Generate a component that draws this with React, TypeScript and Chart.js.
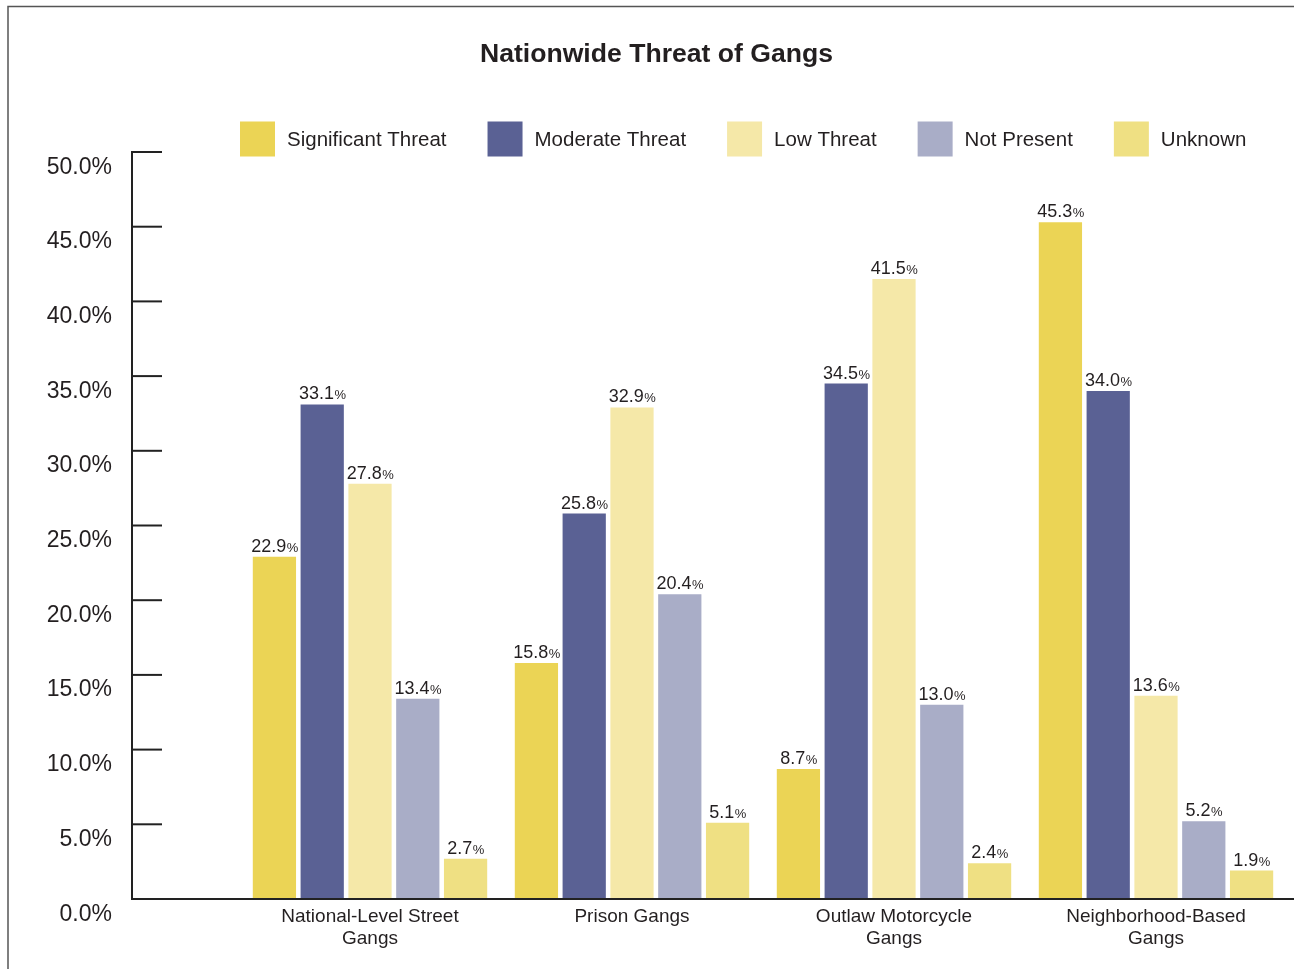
import React, { useEffect, useRef } from 'react';
import { Chart, registerables } from 'chart.js';

Chart.register(...registerables);

const TITLE = 'Nationwide Threat of Gangs';
const categories: string[][] = [
  ['National-Level Street', 'Gangs'],
  ['Prison Gangs'],
  ['Outlaw Motorcycle', 'Gangs'],
  ['Neighborhood-Based', 'Gangs'],
];
const seriesNames = ['Significant Threat', 'Moderate Threat', 'Low Threat', 'Not Present', 'Unknown'];
const significantThreat = [22.9, 15.8, 8.7, 45.3];
const moderateThreat = [33.1, 25.8, 34.5, 34.0];
const lowThreat = [27.8, 32.9, 41.5, 13.6];
const notPresent = [13.4, 20.4, 13.0, 5.2];
const unknown = [2.7, 5.1, 2.4, 1.9];
const seriesColors = ['#EBD455', '#5A6194', '#F5E8A8', '#A9ADC7', '#EFE083'];
const yMin = 0;
const yMax = 50;
const yStep = 5;

const FONT = "'Liberation Sans', Arial, Helvetica, sans-serif";
const INK = '#231f20';

const overlayPlugin = {
  id: 'overlay',
  afterDraw(chart: any) {
    const ctx = chart.ctx as CanvasRenderingContext2D;
    const yScale = chart.scales.y;
    const W = chart.width;
    const H = chart.height;
    ctx.save();

    // frame
    ctx.strokeStyle = '#555';
    ctx.lineWidth = 1.5;
    ctx.beginPath();
    ctx.moveTo(8, H);
    ctx.lineTo(8, 6.5);
    ctx.lineTo(W, 6.5);
    ctx.stroke();

    // title
    ctx.fillStyle = INK;
    ctx.font = `bold 26.6px ${FONT}`;
    ctx.textAlign = 'center';
    ctx.textBaseline = 'middle';
    ctx.fillText(TITLE, 656.5, 55);

    // legend
    ctx.font = `20.5px ${FONT}`;
    ctx.textAlign = 'left';
    ctx.textBaseline = 'alphabetic';
    let lx = 240;
    chart.data.datasets.forEach((ds: any) => {
      ctx.fillStyle = ds.backgroundColor;
      ctx.fillRect(lx, 121.5, 35, 35);
      ctx.fillStyle = INK;
      const tx = lx + 47;
      ctx.fillText(ds.label, tx, 146);
      lx = tx + ctx.measureText(ds.label).width + 41;
    });

    // axes
    const axisX = 132;
    const top = yScale.getPixelForValue(yMax);
    const bottom = yScale.getPixelForValue(yMin);
    ctx.strokeStyle = '#222';
    ctx.lineWidth = 2;
    ctx.beginPath();
    ctx.moveTo(axisX, top - 1);
    ctx.lineTo(axisX, bottom + 1);
    ctx.moveTo(axisX - 1, bottom);
    ctx.lineTo(W, bottom);
    ctx.stroke();

    // y ticks and labels
    ctx.font = `23px ${FONT}`;
    ctx.textAlign = 'right';
    ctx.textBaseline = 'alphabetic';
    ctx.fillStyle = INK;
    yScale.ticks.forEach((t: any) => {
      const py = yScale.getPixelForValue(t.value);
      ctx.beginPath();
      ctx.moveTo(axisX, py);
      ctx.lineTo(axisX + 30, py);
      ctx.stroke();
      ctx.fillText(Number(t.value).toFixed(1) + '%', 112, py + 21.5);
    });

    // data labels
    chart.data.datasets.forEach((ds: any, di: number) => {
      const meta = chart.getDatasetMeta(di);
      meta.data.forEach((el: any, i: number) => {
        const v = ds.data[i];
        const num = Number(v).toFixed(1);
        ctx.font = `18px ${FONT}`;
        const w1 = ctx.measureText(num).width;
        ctx.font = `13px ${FONT}`;
        const w2 = ctx.measureText('%').width;
        const sx = el.x - (w1 + w2) / 2;
        const by = el.y - 5;
        ctx.textAlign = 'left';
        ctx.fillStyle = INK;
        ctx.font = `18px ${FONT}`;
        ctx.fillText(num, sx, by);
        ctx.font = `13px ${FONT}`;
        ctx.fillText('%', sx + w1 + 0.5, by);
      });
    });

    ctx.restore();
  },
};

export default function App() {
  const ref = useRef<HTMLCanvasElement | null>(null);
  useEffect(() => {
    if (!ref.current) return;
    const series = [significantThreat, moderateThreat, lowThreat, notPresent, unknown];
    const chart = new Chart(ref.current, {
      type: 'bar',
      data: {
        labels: categories,
        datasets: series.map((d, i) => ({
          label: seriesNames[i],
          data: d,
          backgroundColor: seriesColors[i],
          borderWidth: 0,
          categoryPercentage: 0.912,
          barPercentage: 0.905,
        })),
      },
      options: {
        animation: false,
        responsive: false,
        maintainAspectRatio: false,
        devicePixelRatio: 1,
        layout: { padding: { left: 239, right: 7, top: 152, bottom: 0 } },
        plugins: {
          legend: { display: false },
          title: { display: false },
          tooltip: { enabled: false },
        },
        scales: {
          x: {
            grid: { display: false, drawTicks: false },
            border: { display: false },
            ticks: {
              color: INK,
              font: { family: FONT, size: 19, lineHeight: 1.2 },
              padding: 6,
              maxRotation: 0,
              autoSkip: false,
            },
            afterFit(scale: any) {
              scale.height = 70;
            },
          },
          y: {
            display: false,
            min: yMin,
            max: yMax,
            ticks: { stepSize: yStep },
          },
        },
      },
      plugins: [overlayPlugin],
    });
    return () => chart.destroy();
  }, []);
  return (
    <div style={{ position: 'fixed', left: 0, top: 0, width: 1294, height: 969, background: '#fff' }}>
      <canvas ref={ref} width={1294} height={969} style={{ display: 'block' }} />
    </div>
  );
}
